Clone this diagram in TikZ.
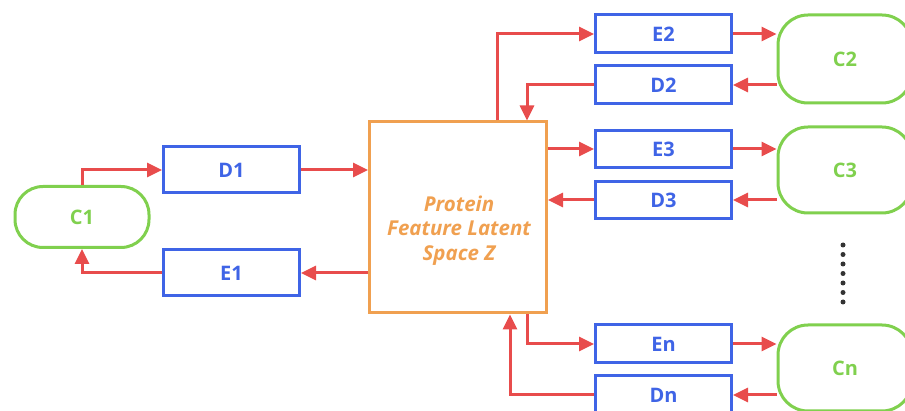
\documentclass[tikz,border=0pt]{standalone}
\usepackage{fontspec}
\setmainfont{Open Sans}
\usetikzlibrary{arrows.meta,calc}
\definecolor{arr}{HTML}{E84C4C}
\definecolor{bl}{HTML}{3F64E6}
\definecolor{gr}{HTML}{80D04E}
\definecolor{orz}{HTML}{F0A050}
\begin{document}
\begin{tikzpicture}[x=1pt,y=-1pt,
  blbox/.style={draw=bl,line width=3pt,minimum width=136pt,minimum height=#1,inner sep=0pt,text=bl,font=\fontsize{20}{22}\selectfont\bfseries},
  blbox/.default=46pt,
  cbox/.style={draw=gr,line width=3pt,minimum width=134pt,minimum height=#1,rounded corners=30pt,inner sep=0pt,text=gr,font=\fontsize{20}{22}\selectfont\bfseries},
  zbox/.style={draw=orz,line width=3pt,minimum width=177pt,minimum height=191pt,inner sep=0pt},
  ztext/.style={text=orz,align=center,inner sep=0pt,font=\fontsize{20.5}{24.5}\selectfont\bfseries\itshape},
  conn/.style={draw=arr,line width=3pt,-{Triangle[length=15pt,width=14pt]}},
  dotc/.style={fill=black!80,circle,inner sep=0pt,minimum size=5pt}
]
\useasboundingbox (0,0) rectangle (905,411);
\node[cbox=61pt,rounded corners=28pt] (C1) at (82,217) {C1};
\node[blbox] (D1) at (231.5,170) {D1};
\node[blbox] (E1) at (231.5,273) {E1};
\node[zbox] (Z) at (458,217.5) {};
\node[ztext] (Zt) at ($(Z.center)+(1,13)$) {Protein\\Feature Latent\\Space Z};
\node[blbox=38pt] (E2) at (663.5,34) {E2};
\node[blbox=38pt] (D2) at (663.5,85) {D2};
\node[blbox=37pt] (E3) at (663.5,149) {E3};
\node[blbox=37pt] (D3) at (663.5,200) {D3};
\node[blbox=38pt] (En) at (663.5,344) {En};
\node[blbox=38pt] (Dn) at (663.5,395) {Dn};
\node[cbox=88pt] (C2) at (845,59) {C2};
\node[cbox=86pt] (C3) at (845,170) {C3};
\node[cbox=86pt] (Cn) at (845,368) {Cn};
\foreach \i in {0,...,6} { \node[dotc] (dot\i) at (843,245+9.5*\i) {}; }
% left side
\draw[conn] (C1.north) |- (D1.west);
\draw[conn] (D1.east) -- (Z.west |- D1);
\draw[conn] (Z.west |- E1) -- (E1.east);
\draw[conn] (E1.west) -| (C1.south);
% top
\draw[conn] ($(Z.north)+(39,0)$) |- (E2.west);
\draw[conn] (D2.west) -| ($(Z.north)+(69,0)$);
\draw[conn] (Z.east |- E3) -- (E3.west);
\draw[conn] (D3.west) -- (Z.east |- D3);
\draw[conn] ($(Z.south)+(69,0)$) |- (En.west);
\draw[conn] (Dn.west) -| ($(Z.south)+(52,0)$);
% right side
\draw[conn] (E2.east) -- (C2.west |- E2);
\draw[conn] (C2.west |- D2) -- (D2.east);
\draw[conn] (E3.east) -- (C3.west |- E3);
\draw[conn] (C3.west |- D3) -- (D3.east);
\draw[conn] (En.east) -- (Cn.west |- En);
\draw[conn] (Cn.west |- Dn) -- (Dn.east);
\end{tikzpicture}
\end{document}
